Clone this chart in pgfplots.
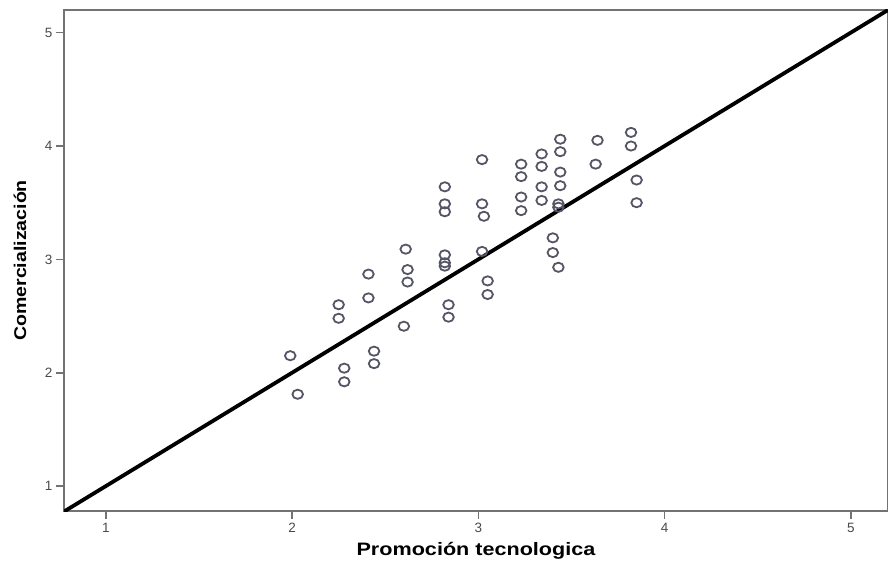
\documentclass[border=0pt]{standalone}
\usepackage{fontspec}
\setmainfont{Liberation Sans}
\usepackage{pgfplots}
\pgfplotsset{compat=1.18}
\definecolor{axgray}{HTML}{737373}
\definecolor{tickgray}{HTML}{4A4A4A}
\definecolor{markgray}{HTML}{555566}
\begin{document}
\begin{tikzpicture}
\begin{axis}[
  scale only axis,
  width=824bp, height=501bp,
  xmin=0.775, xmax=5.2,
  ymin=0.78, ymax=5.2,
  axis line style={axgray, line width=1.8bp},
  xtick={1,2,3,4,5}, ytick={1,2,3,4,5},
  tick align=outside,
  major tick length=8bp,
  tick style={axgray, line width=1.6bp},
  xtick pos=bottom, ytick pos=left,
  /pgf/number format/assume math mode=true,
  ticklabel style={font=\fontsize{13.5bp}{15bp}\selectfont, text=tickgray},
  xticklabel style={yshift=-1bp},
  xlabel={\scalebox{1.2}[1]{\fontsize{18bp}{20bp}\selectfont\bfseries Promoción tecnologica}},
  ylabel={\scalebox{1.15}[1]{\fontsize{17bp}{19bp}\selectfont\bfseries Comercialización}},
  xlabel style={at={(rel axis cs:0.5,0)}, anchor=center, yshift=-40bp},
  ylabel style={at={(rel axis cs:0,0.5)}, anchor=center, yshift=44bp},
  clip=true,
]
\addplot[black, line width=3.8bp] coordinates {(0.775,0.775) (5.2,5.2)};
\addplot[only marks, mark=o, mark size=4.6bp,
  mark options={markgray, line width=1.8bp, xscale=1.15}]
  table[row sep=\\] {
x y \\
1.99 2.15 \\
2.03 1.81 \\
2.25 2.60 \\
2.25 2.48 \\
2.28 2.04 \\
2.28 1.92 \\
2.41 2.87 \\
2.41 2.66 \\
2.44 2.19 \\
2.44 2.08 \\
2.61 3.09 \\
2.62 2.91 \\
2.62 2.80 \\
2.60 2.41 \\
2.82 3.64 \\
2.82 3.49 \\
2.82 3.42 \\
2.82 3.04 \\
2.82 2.97 \\
2.82 2.94 \\
2.84 2.60 \\
2.84 2.49 \\
3.02 3.88 \\
3.02 3.49 \\
3.03 3.38 \\
3.02 3.07 \\
3.05 2.81 \\
3.05 2.69 \\
3.23 3.84 \\
3.23 3.73 \\
3.23 3.55 \\
3.23 3.43 \\
3.34 3.93 \\
3.34 3.82 \\
3.34 3.64 \\
3.34 3.52 \\
3.44 4.06 \\
3.44 3.95 \\
3.44 3.77 \\
3.44 3.65 \\
3.43 3.49 \\
3.43 3.46 \\
3.40 3.19 \\
3.40 3.06 \\
3.43 2.93 \\
3.64 4.05 \\
3.63 3.84 \\
3.82 4.12 \\
3.82 4.00 \\
3.85 3.70 \\
3.85 3.50 \\
};
\end{axis}
\pgfresetboundingbox
\path[use as bounding box] ([shift={(-64bp,-58bp)}]current axis.south west) rectangle ([shift={(0bp,10bp)}]current axis.north east);
\end{tikzpicture}
\end{document}
